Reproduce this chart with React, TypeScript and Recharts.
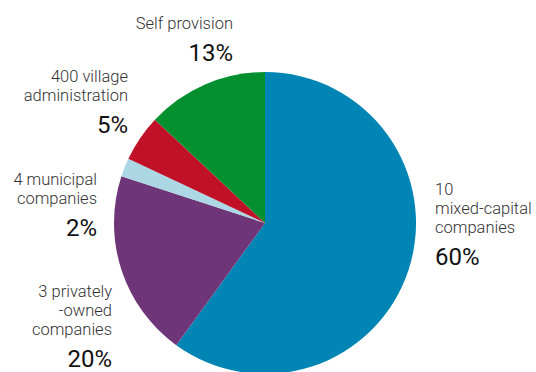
import { PieChart, Pie, Cell } from "recharts";

const segments = ["mixed-capital", "privately-owned", "municipal", "village", "self"];
const shares = [60, 20, 2, 5, 13];
const labelLines = [
  ["10", "mixed-capital", "companies"],
  ["3 privately", "-owned", "companies"],
  ["4 municipal", "companies"],
  ["400 village", "administration"],
  ["Self provision"],
];
const COLORS = ["#0085b4", "#6e3678", "#acd7e4", "#c01129", "#04902f"];

// where each label's first line sits, relative to the pie centre
const LABEL_POS = [
  { dx: 170, dy: -26, anchor: "start" },
  { dx: -153, dy: 76, anchor: "end" },
  { dx: -168, dy: -37, anchor: "end" },
  { dx: -137, dy: -140, anchor: "end" },
  { dx: -32, dy: -194, anchor: "end" },
];

const data = segments.map((name, i) => ({ name, value: shares[i], lines: labelLines[i] }));

const FONT = "Roboto, 'Noto Sans', sans-serif";
const LINE_H = 19;

function renderLabel(props: any) {
  const { cx, cy, index, value } = props;
  const pos = LABEL_POS[index];
  const x = cx + pos.dx;
  const y = cy + pos.dy;
  const lines: string[] = data[index].lines;
  const last = y + (lines.length - 1) * 18;
  const pctY = last + 32;
  return (
    <g key={index}>
      <text x={x} y={last} textAnchor={pos.anchor} fontFamily={FONT} fontWeight={300} fontSize={16.5} fill="#333">
        {lines.map((l, i) => (
          <tspan key={i} x={x} y={last - (lines.length - 1 - i) * LINE_H}>{l}</tspan>
        ))}
      </text>
      <text x={x} y={pctY} textAnchor={pos.anchor} fontFamily={FONT} fontWeight={400} fontSize={24} fill="#111">
        {value}%
      </text>
    </g>
  );
}

export default function App() {
  return (
    <div style={{ position: "absolute", left: 0, top: 0, width: 536, height: 372, background: "#fff" }}>
      <PieChart width={536} height={372} margin={{ top: 0, right: 0, bottom: 0, left: 0 }}>
        <Pie
          data={data}
          dataKey="value"
          cx={265}
          cy={223}
          outerRadius={151}
          startAngle={90}
          endAngle={-270}
          stroke="none"
          label={renderLabel}
          labelLine={false}
          isAnimationActive={false}
        >
          {data.map((d, i) => (
            <Cell key={d.name} fill={COLORS[i]} />
          ))}
        </Pie>
      </PieChart>
    </div>
  );
}
